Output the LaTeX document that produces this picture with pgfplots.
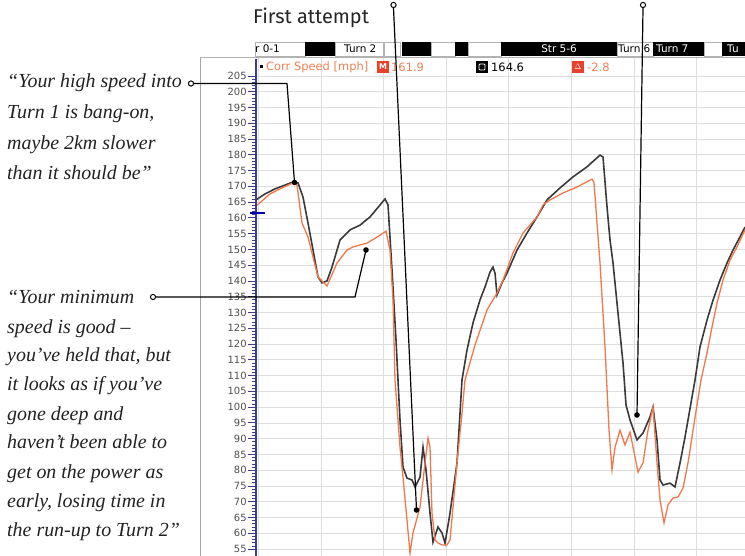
\documentclass[border=0pt]{standalone}
\usepackage{pgfplots}
\pgfplotsset{compat=1.18}
\usepackage{fontspec}
\setmainfont{Liberation Serif}
\newfontfamily\titlefont{Fira Sans}
\newfontfamily\chartfont{DejaVu Sans}
\definecolor{darkc}{HTML}{3A3A3A}
\definecolor{orangec}{HTML}{F0784B}
\definecolor{legorange}{HTML}{F08050}
\definecolor{redbox}{HTML}{E8402A}
\definecolor{axisblue}{HTML}{3C3C8C}
\definecolor{gridc}{HTML}{DEDEDE}
\definecolor{tickgray}{HTML}{505050}
\definecolor{quotec}{HTML}{222222}
\begin{document}
\begin{tikzpicture}[x=1bp,y=1bp]
\useasboundingbox (0,0) rectangle (745,556);
\clip (0,0) rectangle (745,556);
\fill[white] (0,0) rectangle (745,556);
% frame
\draw[gray!70, line width=0.8bp] (200,0) -- (200,515) -- (745,515);
\begin{axis}[
  at={(256,0)}, anchor=south west,
  scale only axis, width=489bp, height=498bp,
  xmin=0, xmax=489, ymin=52.8, ymax=210.7,
  axis line style={draw=none},
  xtick={2.4,65,127.6,190.2,252.8,315.4,378,440.6},
  xticklabels={},
  xtick style={draw=none},
  ytick={55,60,...,205},
  minor y tick num=4,
  ytick pos=left,
  tick align=outside,
  major tick length=8bp, minor tick length=4bp,
  ytick style={axisblue, line width=0.8bp},
  grid=major, major grid style={gridc, line width=0.7bp},
  yticklabel style={font=\chartfont\fontsize{10}{10}\selectfont, text=tickgray, inner sep=1.2bp},
  /pgf/number format/assume math mode=true,
  clip=true,
]
\addplot[darkc, line width=1.6bp] coordinates {
(0,165.7) (9,167.6) (19,169.2) (29,170.4) (37,171.4) (42,171.1) (47,166.6) (52,158.4)
(57,149.8) (62,141.3) (66,139.4) (71,140.0) (76,144.4) (84,153.0) (94,156.2) (104,157.7)
(114,160.3) (124,164.1) (129,166.0) (132,164.1) (136,143.5) (140,121.3) (144,95.9)
(147,81.0) (151,77.5) (156,76.9) (159,74.7) (164,77.8) (167,87.3) (170,80.1) (174,66.4)
(177,57.2) (182,62.0) (186,60.1) (189,56.9) (194,66.4) (201,82.3) (206,108.6) (211,118.1)
(217,126.7) (224,134.0) (229,138.1) (234,142.8) (237,144.4) (239,142.5) (241,135.6)
(246,139.4) (251,142.5) (261,149.8) (271,155.2) (281,160.3) (291,165.7) (304,169.5)
(317,173.0) (331,176.2) (344,179.9) (347,179.3) (351,163.5) (354,153.0) (357,145.7)
(362,129.8) (367,114.0) (370,100.7) (374,95.9) (381,89.6) (387,91.8) (394,96.9)
(397,100.0) (401,89.6) (404,76.9) (407,75.3) (414,75.9) (419,74.7) (424,82.3) (429,90.5)
(436,103.2) (439,108.6) (444,119.1) (451,127.6) (457,133.9) (464,140.3) (471,145.7)
(477,149.8) (484,154.0) (489,157.1)
};
\addplot[orangec, line width=1.3bp] coordinates {
(0,163.8) (6,165.4) (14,167.6) (24,169.2) (37,171.1) (41,170.4) (46,158.4) (52,153.9)
(57,147.6) (62,141.3) (71,138.4) (81,145.7) (91,149.8) (97,150.8) (111,152.0) (121,153.9)
(130,155.8) (134,149.8) (137,133.9) (139,108.6) (144,87.3) (147,77.8) (151,64.2) (154,53.7)
(157,60.1) (164,68.3) (169,82.3) (172,90.2) (174,87.3) (176,66.4) (179,57.9) (182,56.9)
(186,56.3) (191,56.3) (194,57.9) (197,68.3) (201,82.3) (206,98.1) (209,108.6) (219,119.7)
(231,130.8) (241,136.2) (247,140.3) (257,148.9) (267,155.2) (281,160.3) (287,164.1)
(294,165.7) (307,167.9) (321,169.8) (336,172.3) (338,171.1) (341,158.4) (344,145.7)
(349,119.1) (353,92.7) (356,80.1) (359,87.3) (364,92.7) (369,88.0) (374,92.1) (379,84.2)
(382,79.4) (387,82.3) (392,92.7) (397,100.0) (401,82.3) (404,70.6) (408,63.3) (412,69.0)
(417,71.2) (422,71.5) (427,74.3) (432,82.3) (437,92.7) (445,108.6) (451,117.2) (456,125.4)
(461,133.0) (467,140.3) (474,146.6) (481,150.8) (489,156.2)
};
\end{axis}
% left spine
\draw[axisblue, line width=1.6bp] (256,0) -- (256,497);
% cursor marker
\draw[blue!70!black, line width=2.4bp] (250,343) -- (265,343);
% header strip
\fill[white] (200,499) rectangle (745,515);
\draw[gray!60, line width=0.6bp] (200,499) -- (745,499);
\foreach \a/\b in {255/305,335/383,384/400,431/455,468/501,617/653,704/722}
  {\draw[gray!60, fill=white, line width=0.6bp] (\a,500) rectangle (\b,514);}
\foreach \a/\b in {305/335,402/431,455/468,501/617,653/704,722/745}
  {\fill[black] (\a,500) rectangle (\b,514);}
\begin{scope}[every node/.style={font=\chartfont\fontsize{10.5}{11}\selectfont, inner sep=0pt}]
\node[anchor=west] at (255,507) {r 0-1};
\node[anchor=west] at (344,507) {Turn 2};
\node[anchor=center, text=white] at (559,507) {Str 5-6};
\node[anchor=west] at (618,507) {Turn 6};
\node[anchor=west, text=white] at (656,507) {Turn 7};
\node[anchor=west, text=white] at (727,507) {Tu};
\end{scope}
\begin{scope}[every node/.style={font=\chartfont\fontsize{11.5}{12}\selectfont, inner sep=0pt}]
% legend row
\fill[black] (259.5,487.5) rectangle (262.5,490.5);
\node[anchor=west, text=legorange] at (266,489) {Corr Speed [mph]};
\fill[redbox] (377,483) rectangle (389,495);
\node[text=white, font=\chartfont\bfseries\fontsize{8}{8}\selectfont] at (383,489) {M};
\node[anchor=west, text=legorange] at (391,489) {161.9};
\fill[black] (476,483) rectangle (488,495);
\draw[white, line width=0.9bp, rounded corners=1bp] (479,486) rectangle (485,492);
\node[anchor=west, text=black] at (491,489) {164.6};
\fill[redbox] (572,483) rectangle (584,495);
\node[text=white, font=\chartfont\bfseries\fontsize{8}{8}\selectfont] at (578,489) {$\Delta$};
\node[anchor=west, text=legorange] at (587,489) {-2.8};
\end{scope}
% title
\node[anchor=base west, inner sep=0pt, font=\titlefont\fontsize{20}{20}\selectfont, text=black!85] at (253,532) {First attempt};
% annotation lines
\draw[black, line width=1.2bp] (194,472.5) -- (287,472.5) -- (294.5,373.5);
\fill[black] (294.5,373.5) circle (2.8);
\draw[black, line width=1bp, fill=white] (191,472.5) circle (2.6);
\draw[black, line width=1.2bp] (156,259) -- (355,259) -- (366,306);
\fill[black] (366,306) circle (2.8);
\draw[black, line width=1bp, fill=white] (153,259) circle (2.6);
\draw[black, line width=1.2bp] (393.5,548) -- (416.5,46);
\fill[black] (416.5,46) circle (2.8);
\draw[black, line width=1bp, fill=white] (393.5,551) circle (2.6);
\draw[black, line width=1.2bp] (643,548) -- (637,141);
\fill[black] (637,141) circle (2.8);
\draw[black, line width=1bp, fill=white] (643,551) circle (2.6);
% quotes
\begin{scope}[every node/.style={anchor=base west, inner sep=0pt, text=quotec, font=\itshape\fontsize{20}{20}\selectfont}]
\node at (7,468) {“Your high speed into};
\node at (7,437) {Turn 1 is bang-on,};
\node at (7,406) {maybe 2km slower};
\node at (7,376) {than it should be”};
\node at (7,252) {“Your minimum};
\node at (7,222) {speed is good –};
\node at (7,194) {you’ve held that, but};
\node at (7,165) {it looks as if you’ve};
\node at (7,135) {gone deep and};
\node at (7,107) {haven’t been able to};
\node at (7,77) {get on the power as};
\node at (7,48) {early, losing time in};
\node at (7,19) {the run-up to Turn 2”};
\end{scope}
\end{tikzpicture}
\end{document}
